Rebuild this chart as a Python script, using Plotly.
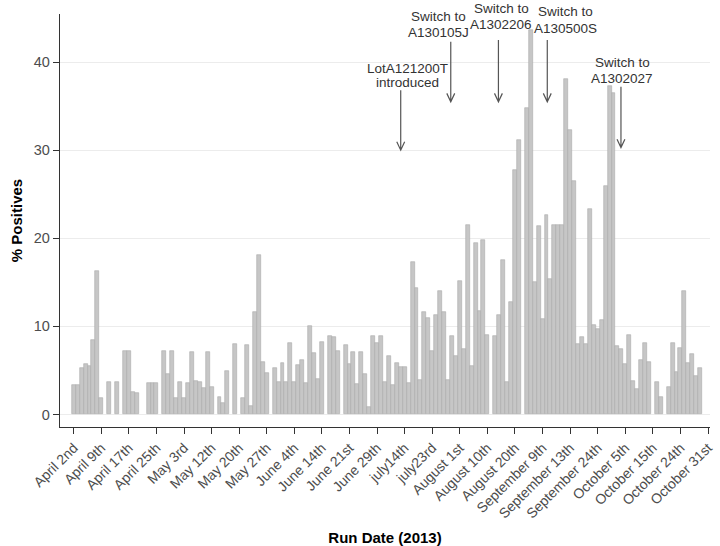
import plotly.graph_objects as go

# ---- data ----
run_index = list(range(162))
pct_positive = [
    3.3, 3.35, 5.3, 5.75, 5.55, 8.45, 16.3, 1.9, None, 3.7,
    None, 3.7, None, 7.25, 7.25, 2.6, 2.4, None, None, 3.55,
    3.55, 3.55, None, 7.25, 4.55, 7.25, 1.9, 3.7, 1.9, 3.6,
    7.05, 3.75, 3.7, 3.0, 7.15, 3.1, None, 1.95, 1.25, 4.9,
    None, 8.05, None, 1.85, 7.85, 1.0, 11.6, 18.05, 5.95, 4.75,
    None, 5.25, 3.7, 5.9, 3.7, 8.15, 3.7, 5.65, 6.15, 3.6,
    10.1, 6.95, 4.05, 8.25, None, 8.9, 8.85, 7.25, None, 7.85,
    5.75, 7.15, 3.45, 7.15, 4.65, 0.85, 8.9, 8.15, 8.9, 3.7,
    6.65, 3.4, 5.85, 5.4, 5.35, 3.55, 17.35, 14.35, 3.9, 11.65,
    11.0, 7.25, 11.35, 14.05, 11.6, 3.9, 8.9, 6.65, 15.1, 7.4,
    21.5, 5.45, 19.45, 11.8, 19.8, 9.0, None, 8.9, 11.3, 17.55,
    3.7, 12.8, 27.8, 31.15, None, 34.75, 43.7, 15.0, 21.45, 10.85,
    22.7, 15.4, 21.5, 21.5, 21.5, 38.1, 32.35, 26.45, 8.0, 8.85,
    8.0, 23.3, 10.15, 9.65, 10.7, 25.95, 37.3, 36.5, 7.8, 7.45,
    5.75, 9.0, 3.8, 2.85, 6.2, 8.15, 6.0, None, 3.65, 2.0,
    None, 3.15, 8.1, 4.85, 7.5, 14.05, 5.9, 6.85, 4.35, 5.25,
    None, None,
]
tick_positions = list(range(0, 162, 7))
tick_labels = [
    "April 2nd", "April 9th", "April 17th", "April 25th", "May 3rd",
    "May 12th", "May 20th", "May 27th", "June 4th", "June 14th",
    "June 21st", "June 29th", "july14th", "july23rd", "August 1st",
    "August 10th", "August 20th", "September 9th", "September 13th",
    "September 24th", "October 5th", "October 15th", "October 24th",
    "October 31st",
]
y_ticks = [0, 10, 20, 30, 40]

# annotation texts and arrow positions (run index, start %, end %)
note_line1 = ["LotA121200T", "Switch to", "Switch to", "Switch to", "Switch to"]
note_line2 = ["introduced", "A130105J", "A1302206", "A130500S", "A1302027"]
note_x = [84.6, 92.7, 108.5, 124.7, 139.2]
note_y1_px = [68, 16, 8, 12, 62]
note_y2_px = [83, 32, 24, 28, 78]
arrow_x = [83.0, 95.7, 107.8, 120.2, 138.9]
arrow_from = [36.8, 42.3, 42.5, 42.5, 37.2]
arrow_to = [30.0, 35.5, 35.5, 35.5, 30.3]

FONT = "Liberation Sans, Arial, Helvetica, sans-serif"
W, H = 720, 546
M_L, M_R, M_T, M_B = 60, 10, 14, 119
PLOT_H = H - M_T - M_B

fig = go.Figure(
    go.Bar(
        x=run_index,
        y=pct_positive,
        width=1.0,
        marker=dict(color="#c6c6c6", line=dict(color="#a9a9a9", width=0.6)),
        showlegend=False,
    )
)

def px_to_paper(ypx):
    return 1 - (ypx - M_T) / PLOT_H

annotations = []
for i in range(len(note_line1)):
    for txt, ypx in ((note_line1[i], note_y1_px[i]), (note_line2[i], note_y2_px[i])):
        annotations.append(dict(
            x=note_x[i], xref="x", y=px_to_paper(ypx), yref="paper",
            text=txt, showarrow=False, xanchor="center", yanchor="middle",
            font=dict(family=FONT, size=13.5, color="#333333"),
        ))

shapes = []
for xa, y0, y1 in zip(arrow_x, arrow_from, arrow_to):
    path = (f"M {xa},{y0} L {xa},{y1} "
            f"M {xa-1.0},{y1+0.95} L {xa},{y1} L {xa+1.0},{y1+0.95}")
    shapes.append(dict(type="path", path=path, xref="x", yref="y",
                       line=dict(color="#555555", width=1.2)))

fig.update_layout(
    width=W, height=H,
    margin=dict(l=M_L, r=M_R, t=M_T, b=M_B, autoexpand=False),
    plot_bgcolor="white", paper_bgcolor="white",
    font=dict(family=FONT),
    bargap=0,
    annotations=annotations,
    shapes=shapes,
    xaxis=dict(
        automargin=False,
        range=[-3.48, 161.5],
        tickmode="array", tickvals=tick_positions, ticktext=tick_labels,
        tickangle=-45,
        ticks="outside", ticklen=6, tickwidth=1, tickcolor="#333333",
        showline=True, linecolor="#333333", linewidth=1.3,
        showgrid=False, zeroline=False,
        tickfont=dict(family=FONT, size=14, color="#4d4d4d"),
        title=dict(text="<b>Run Date (2013)</b>", standoff=12,
                   font=dict(family=FONT, size=15, color="black")),
    ),
    yaxis=dict(
        automargin=False,
        range=[-1.42, 45.46],
        tickmode="array", tickvals=y_ticks,
        ticks="outside", ticklen=6, tickwidth=1, tickcolor="#333333",
        showline=True, linecolor="#333333", linewidth=1.3,
        showgrid=True, gridcolor="#ececec", gridwidth=1,
        zeroline=False,
        tickfont=dict(family=FONT, size=14.5, color="#4d4d4d"),
        title=dict(text="<b>% Positives</b>", standoff=7,
                   font=dict(family=FONT, size=15, color="black")),
    ),
)

# remove the browser's default page margin so the figure sits at (0, 0)
fig.write_html(
    "out.html",
    config={"displayModeBar": False},
    post_script="document.body.style.margin='0';document.body.style.overflow='hidden';",
)
